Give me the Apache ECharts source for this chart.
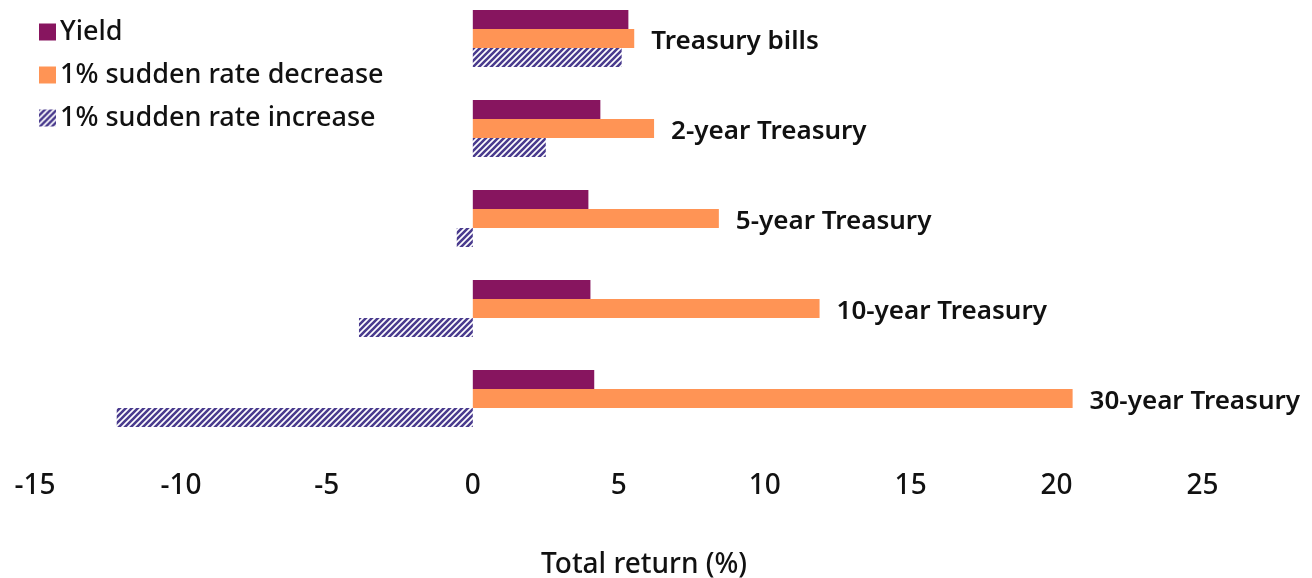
<!DOCTYPE html>
<html>
<head>
<meta charset="utf-8">
<script src="https://cdn.jsdelivr.net/npm/echarts@6/dist/echarts.min.js"></script>
<style>
html,body{margin:0;padding:0;background:#fff;}
#chart{width:1312px;height:578px;}
</style>
</head>
<body>
<div id="chart"></div>
<script>
// 数据
var categories=['Treasury bills','2-year Treasury','5-year Treasury','10-year Treasury','30-year Treasury'];
var yieldData=[5.33,4.37,3.96,4.03,4.16];
var decreaseData=[5.53,6.21,8.43,11.88,20.55];
var increaseData=[5.1,2.5,-0.55,-3.9,-12.2];
var xTicks=[-15,25,5];   // min,max,interval

// 斜线填充
function makeHatch(){
	var c=document.createElement('canvas');
	c.width=6;c.height=6;
	var ctx=c.getContext('2d');
	ctx.fillStyle='#ffffff';
	ctx.fillRect(0,0,6,6);
	ctx.strokeStyle='#4a3b8e';
	ctx.lineWidth=2.6;
	ctx.beginPath();
	ctx.moveTo(-1,7);ctx.lineTo(7,-1);
	ctx.moveTo(-4,4);ctx.lineTo(4,-4);
	ctx.moveTo(2,10);ctx.lineTo(10,2);
	ctx.stroke();
	return c;
}

var chart=echarts.init(document.getElementById('chart'));
var font='"Noto Sans", sans-serif';
var option={
	backgroundColor:'#ffffff',
	animation:false,
	// x轴标题
	title:{
		text:'Total return (%)',
		left:541,
		top:551,
		padding:0,
		textStyle:{fontFamily:font,fontSize:28,fontWeight:500,color:'#111'}
	},
	legend:{
		orient:'vertical',
		left:34,
		top:12,
		itemWidth:17,
		itemHeight:17,
		itemGap:13,
		icon:'rect',
		textStyle:{fontFamily:font,fontSize:27,fontWeight:500,color:'#111',lineHeight:30,padding:[0,0,0,-1]},
		data:['Yield','1% sudden rate decrease','1% sudden rate increase']
	},
	grid:{left:35,right:109.5,top:-6.5,height:450,outerBoundsMode:'none',containLabel:false},
	xAxis:{
		type:'value',
		min:xTicks[0],
		max:xTicks[1],
		interval:xTicks[2],
		axisLine:{show:false},
		axisTick:{show:false},
		splitLine:{show:false},
		axisLabel:{fontFamily:font,fontSize:28,fontWeight:500,color:'#111',margin:29}
	},
	yAxis:{
		type:'category',
		inverse:true,
		data:categories,
		axisLine:{show:false},
		axisTick:{show:false},
		axisLabel:{show:false},
		splitLine:{show:false}
	},
	series:[
		{
			name:'Yield',
			type:'bar',
			barWidth:19,
			barGap:'0%',
			data:yieldData,
			itemStyle:{color:'#87155f'}
		},
		{
			name:'1% sudden rate decrease',
			type:'bar',
			barWidth:19,
			barGap:'0%',
			data:decreaseData,
			itemStyle:{color:'#ff9455'},
			label:{
				show:true,
				position:'right',
				distance:17,
				formatter:'{b}',
				offset:[0,3],
				fontFamily:font,
				fontSize:26,
				fontWeight:600,
				color:'#111'
			}
		},
		{
			name:'1% sudden rate increase',
			type:'bar',
			barWidth:19,
			barGap:'0%',
			data:increaseData,
			itemStyle:{color:{image:makeHatch(),repeat:'repeat'}}
		}
	]
};
chart.setOption(option);
</script>
</body>
</html>
